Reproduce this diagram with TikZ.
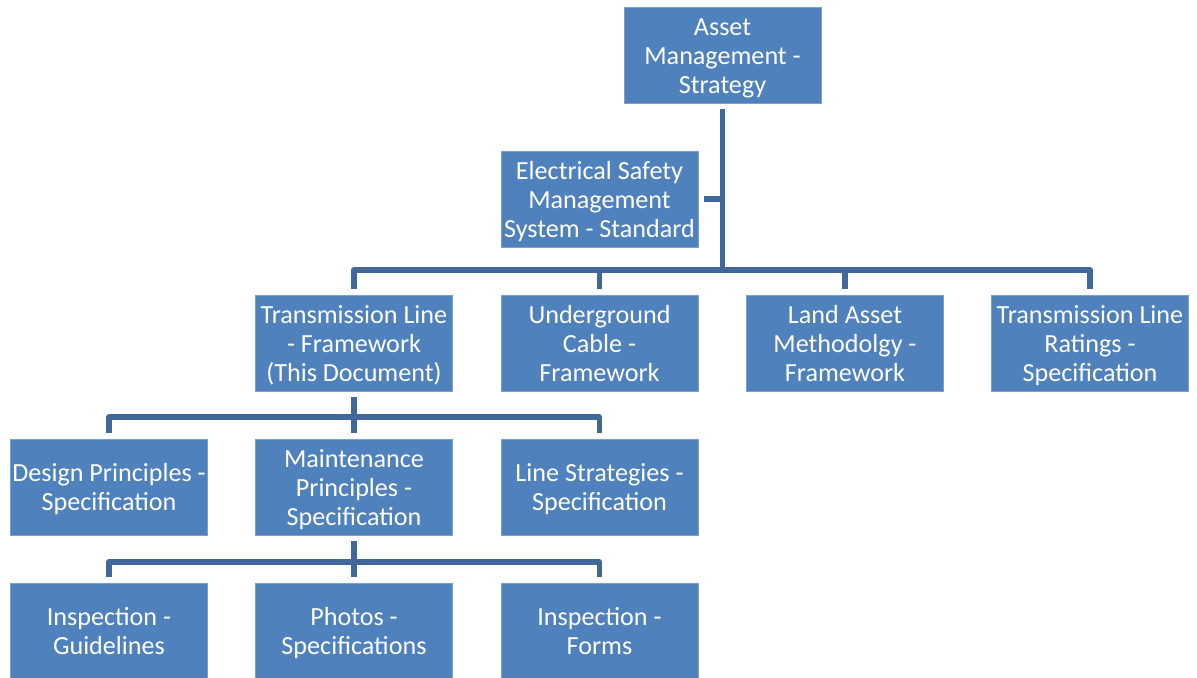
\documentclass[tikz,border=0pt]{standalone}
\usepackage{fontspec}
\setmainfont{Carlito}
\usetikzlibrary{positioning}
\definecolor{boxblue}{HTML}{4F81BD}
\definecolor{linkblue}{HTML}{41689A}
\newcommand{\topgap}{\rule{0pt}{18.5pt}}
\newcommand{\botgap}{\rule[-5pt]{0pt}{5pt}}
\tikzset{
  orgbox/.style={rectangle, fill=boxblue, draw=boxblue!75!white, line width=0.4pt,
    minimum width=147.75pt, minimum height=72pt, inner xsep=0pt, inner ysep=1pt, outer sep=4.5pt,
    align=center, text=white, font=\fontsize{19.6}{21.75}\selectfont},
  orglink/.style={draw=linkblue, line width=3.8pt, line join=round}
}

\begin{document}
\begin{tikzpicture}[x=0.75pt, y=-0.75pt]
    \useasboundingbox (0,0) rectangle (1197,678);
    % top level
    \node[orgbox] (root) at (722.5,55) {\topgap Asset\\Management -\\Strategy\botgap};
    \node[orgbox] (esms) at (599.5,199) {\topgap Electrical Safety\\Management\\System - Standard\botgap};
    % frameworks
    \node[orgbox] (tlf) at (354,343) {\topgap Transmission Line\\- Framework\\(This Document)\botgap};
    \node[orgbox] (ucf) at (599.5,343) {\topgap Underground\\Cable -\\Framework\botgap};
    \node[orgbox] (laf) at (845,343) {\topgap Land Asset\\Methodolgy -\\Framework\botgap};
    \node[orgbox] (tlr) at (1090,343) {\topgap Transmission Line\\Ratings -\\Specification\botgap};
    % specifications
    \node[orgbox] (dps) at (109,487) {\topgap Design Principles -\\Specification\botgap};
    \node[orgbox] (mps) at (354,487) {\topgap Maintenance\\Principles -\\Specification\botgap};
    \node[orgbox] (lss) at (599.5,487) {\topgap Line Strategies -\\Specification\botgap};
    % guidelines and forms
    \node[orgbox] (ing) at (109,631) {\topgap Inspection -\\Guidelines\botgap};
    \node[orgbox] (phs) at (354,631) {\topgap Photos -\\Specifications\botgap};
    \node[orgbox] (inf) at (599.5,631) {\topgap Inspection -\\Forms\botgap};
    % junctions
    \coordinate (j1) at (722.5,270);
    \coordinate (j2) at (354,417);
    \coordinate (j3) at (354,562);
    \draw[orglink] (root.south) -- (j1);
    \draw[orglink] (esms.east) -- (esms.east -| j1);
    \draw[orglink] (tlf.north) |- (j1) -| (tlr.north);
    \draw[orglink] (ucf.north) -- (ucf.north |- j1);
    \draw[orglink] (laf.north) -- (laf.north |- j1);
    \draw[orglink] (tlf.south) -- (j2);
    \draw[orglink] (dps.north) |- (j2) -| (lss.north);
    \draw[orglink] (mps.north) -- (j2);
    \draw[orglink] (mps.south) -- (j3);
    \draw[orglink] (ing.north) |- (j3) -| (inf.north);
    \draw[orglink] (phs.north) -- (j3);
\end{tikzpicture}
\end{document}
